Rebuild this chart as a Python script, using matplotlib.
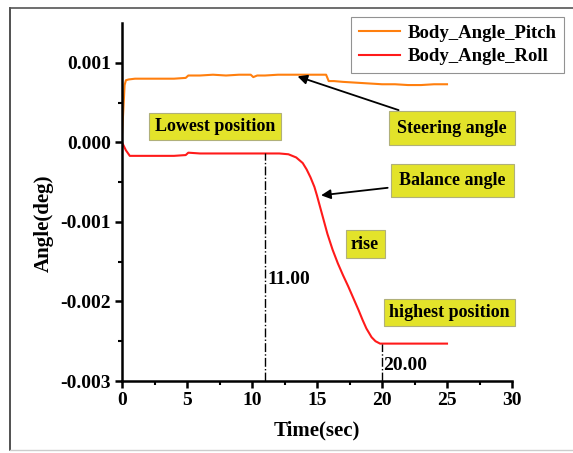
import numpy as np
import matplotlib
matplotlib.use("Agg")
import matplotlib.pyplot as plt
from matplotlib.lines import Line2D

plt.rcParams['font.family'] = ['Liberation Serif', 'DejaVu Serif']
plt.rcParams['font.weight'] = 'bold'

# ========== data ==========
t_pitch = [0, 0.1, 0.2, 0.3, 0.5, 1, 2, 3, 4, 4.9, 5.1, 6, 7, 8, 9, 9.9, 10.1, 10.4, 11, 12,
           13, 14, 15, 15.7, 15.9, 16.3, 17, 18, 19, 20, 21, 22, 23, 24, 25]
pitch = [0.0001, 0.0004, 0.00072, 0.00078, 0.00079, 0.0008, 0.0008, 0.0008, 0.0008, 0.00081,
         0.00084, 0.00084, 0.00085, 0.00084, 0.00085, 0.00085, 0.00082, 0.00084, 0.00084, 0.00085,
         0.00085, 0.00085, 0.00085, 0.00085, 0.00077, 0.00077, 0.00076, 0.00075, 0.00074, 0.00073,
         0.00073, 0.00072, 0.00072, 0.00073, 0.00073]

t_roll = [0, 0.3, 0.6, 1, 2, 3, 4, 4.9, 5.1, 6, 8, 10, 12.1, 12.8, 13.4, 13.9, 14.2, 14.5,
          14.8, 15.0, 15.3, 15.5, 15.8, 16.2, 16.6, 17.0, 17.4, 17.8, 18.2, 18.5, 18.8, 19.2,
          19.5, 19.85, 20, 22, 25]
roll = [0, -0.0001, -0.00017, -0.00017, -0.00017, -0.00017, -0.00017, -0.00016, -0.00013,
        -0.00014, -0.00014, -0.00014, -0.00014, -0.00015, -0.00019, -0.00026, -0.00034, -0.00044,
        -0.00056, -0.00067, -0.00085, -0.00097, -0.00115, -0.00135, -0.00152, -0.00167, -0.00181,
        -0.00196, -0.00211, -0.00223, -0.00234, -0.00245, -0.0025, -0.00253, -0.00253,
        -0.00253, -0.00253]

x_ticks = [0, 5, 10, 15, 20, 25, 30]
y_ticks = [-0.003, -0.002, -0.001, 0.000, 0.001]
y_labels = ["-0.003", "-0.002", "-0.001", "0.000", "0.001"]

# ========== figure ==========
fig = plt.figure(figsize=(5.73, 4.53), dpi=100)
fig.patch.set_facecolor('white')

# outer frame lines of the original picture
fig.add_artist(Line2D([10/573, 10/573], [1 - 8/453, 1 - 450/453], color='#333333', lw=1.2))
fig.add_artist(Line2D([10/573, 1.0], [1 - 8/453, 1 - 8/453], color='#555555', lw=1.2))
fig.add_artist(Line2D([10/573, 1.0], [1 - 450/453, 1 - 450/453], color='#cccccc', lw=1.0))

ax = fig.add_axes([122/573, 1 - 381/453, 390/573, 358/453])
ax.plot(t_pitch, pitch, color='#ff7f0e', lw=1.5, label='Body_Angle_Pitch')
ax.plot(t_roll, roll, color='#ff1a1a', lw=1.5, label='Body_Angle_Roll')

ax.set_xlim(0, 30)
ax.set_ylim(-0.003, 0.0015)
ax.set_xticks(x_ticks)
ax.set_xticks([2.5, 7.5, 12.5, 17.5, 22.5, 27.5], minor=True)
ax.set_yticks(y_ticks)
ax.set_yticklabels(y_labels)
ax.set_yticks([-0.0025, -0.0015, -0.0005, 0.0005], minor=True)
ax.spines['top'].set_visible(False)
ax.spines['right'].set_visible(False)
ax.spines['left'].set_linewidth(1.8)
ax.spines['bottom'].set_linewidth(1.8)
ax.tick_params(which='major', length=5, width=1.8, labelsize=14, pad=3)
ax.tick_params(which='minor', length=3, width=1.5)
for lab in ax.get_xticklabels() + ax.get_yticklabels():
    lab.set_fontweight('bold')

ax.set_xlabel("Time(sec)", fontsize=15, fontweight='bold', labelpad=8)
ax.set_ylabel("Angle(deg)", fontsize=15, fontweight='bold')
ax.yaxis.set_label_coords(-0.175, 0.44)

# vertical reference lines
ax.plot([11, 11], [-0.003, -0.00014], color='black', lw=1, linestyle='-.')
ax.plot([20, 20], [-0.003, -0.00253], color='black', lw=1, linestyle='-.')
ax.text(11.2, -0.00172, "11.00", fontsize=14, fontweight='bold', va='center')
ax.text(20.1, -0.00280, "20.00", fontsize=14, fontweight='bold', va='center')

box = dict(boxstyle='square,pad=0.3', facecolor='#e3e32a', edgecolor='#b0b07a', lw=0.8)
ax.text(7.15, 0.0002, "Lowest position", fontsize=13, fontweight='bold',
        ha='center', va='center', bbox=box)
ax.text(18.7, -0.00128, "rise", fontsize=13, fontweight='bold',
        ha='center', va='center', bbox=box)
ax.text(25.2, -0.00214, "highest position", fontsize=13, fontweight='bold',
        ha='center', va='center', bbox=box)

arrow = dict(arrowstyle='-|>', color='black', lw=1.3, mutation_scale=14)
big_box = dict(boxstyle='square,pad=0.45', facecolor='#e3e32a', edgecolor='#b0b07a', lw=0.8)
ax.annotate("Steering angle", xy=(13.3, 0.00084), xytext=(25.4, 0.00018),
            fontsize=13, fontweight='bold', ha='center', va='center',
            bbox=big_box, arrowprops=arrow)
ax.annotate("Balance angle", xy=(15.1, -0.00067), xytext=(25.4, -0.00048),
            fontsize=13, fontweight='bold', ha='center', va='center',
            bbox=big_box, arrowprops=arrow)

leg = fig.legend(loc='upper right', bbox_to_anchor=(564/573, 1 - 17/453),
                 prop={'weight': 'bold', 'size': 13.5},
                 frameon=True, fancybox=False, borderpad=0.4, labelspacing=0.35,
                 handlelength=2.2, handletextpad=0.4, borderaxespad=0.0)
leg.get_frame().set_edgecolor('#777777')
leg.get_frame().set_linewidth(0.8)

plt.savefig("out.png", dpi=100)
plt.close()
